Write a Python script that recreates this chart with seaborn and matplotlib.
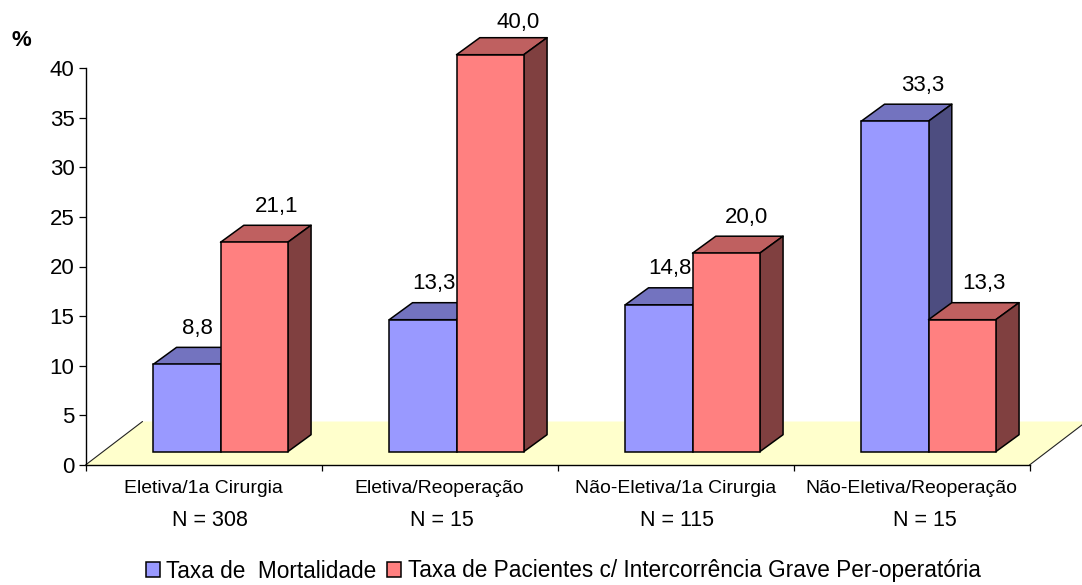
import matplotlib
matplotlib.use("Agg")
import matplotlib.pyplot as plt
from matplotlib.patches import Polygon
import pandas as pd
import seaborn as sns

categories = ["Eletiva/1a Cirurgia", "Eletiva/Reoperação", "Não-Eletiva/1a Cirurgia", "Não-Eletiva/Reoperação"]
n_labels = ["N = 308", "N = 15", "N = 115", "N = 15"]
series_names = ["Taxa de  Mortalidade", "Taxa de Pacientes c/ Intercorrência Grave Per-operatória"]
mortalidade = [8.8, 13.3, 14.8, 33.3]
intercorrencia = [21.1, 40.0, 20.0, 13.3]

# styling / layout (pixels of a 1082x585 figure)
W, H = 1082, 585
LEFT, RIGHT, TOP, BOTTOM = 85.5, 1029.5, 68, 465
FRONT = {"blue": "#9999FF", "red": "#FF8080"}
SHADE = {"blue": ("#7373BF", "#4D4D80"), "red": ("#BF6060", "#804040")}
LABEL_OFFSET_PX = [[11, 22.5], [11, 28], [11, 20], [28, 22]]
LABEL_RISE_PX = [[36, 36], [36, 32.5], [36, 36], [36, 36]]
N_OFFSET_PX = [6, 2, 1, 13]

sns.set_theme(style="white")
plt.rcParams["font.family"] = ["Liberation Sans", "DejaVu Sans"]

df = pd.DataFrame({
    "cat": categories * 2,
    "serie": [series_names[0]] * 4 + [series_names[1]] * 4,
    "valor": mortalidade + intercorrencia,
})

fig = plt.figure(figsize=(W / 100, H / 100), dpi=100, facecolor="white")
ax = fig.add_axes([LEFT / W, 1 - BOTTOM / H, (RIGHT - LEFT) / W, (BOTTOM - TOP) / H])
ax.set_facecolor("none")

sns.barplot(data=df, x="cat", y="valor", hue="serie", hue_order=series_names,
            palette=[FRONT["blue"], FRONT["red"]], width=0.57, dodge=True, gap=0,
            edgecolor="black", linewidth=1.1, saturation=1, ax=ax, zorder=3)

ax.set_xlim(-0.5, 3.5)
ax.set_ylim(0, 40)
px_x = (RIGHT - LEFT) / 4      # pixels per category
px_y = (BOTTOM - TOP) / 40     # pixels per percent
shift_x = 17 / px_x
shift_y = 13.3 / px_y
depth_x = 23.3 / px_x
depth_y = 17 / px_y

# floor of the 3D chart
floor_dx = 57 / px_x
floor_dy = 43.5 / px_y
ax.add_patch(Polygon([(-0.5, 0), (3.5, 0), (3.5 + floor_dx, floor_dy), (-0.5 + floor_dx, floor_dy)],
                     closed=True, facecolor="#FFFFCC", edgecolor="none", clip_on=False, zorder=1))
for x0 in (-0.5, 3.5):
    ax.plot([x0, x0 + floor_dx], [0, floor_dy], color="#222222", lw=0.8, clip_on=False, zorder=1.5)

for s, (container, key) in enumerate(zip(ax.containers, ("blue", "red"))):
    top_col, side_col = SHADE[key]
    for i, bar in enumerate(container):
        h = bar.get_height()
        bar.set_x(bar.get_x() + shift_x)
        bar.set_y(shift_y)
        bar.set_clip_on(False)
        bar.set_zorder(3 + 2 * s)
        x0, x1 = bar.get_x(), bar.get_x() + bar.get_width()
        y0, y1 = shift_y, shift_y + h
        top = Polygon([(x0, y1), (x1, y1), (x1 + depth_x, y1 + depth_y), (x0 + depth_x, y1 + depth_y)],
                      closed=True, facecolor=top_col, edgecolor="black", lw=1.1,
                      joinstyle="round", clip_on=False, zorder=2 + 2 * s)
        side = Polygon([(x1, y0), (x1 + depth_x, y0 + depth_y), (x1 + depth_x, y1 + depth_y), (x1, y1)],
                       closed=True, facecolor=side_col, edgecolor="black", lw=1.1,
                       joinstyle="round", clip_on=False, zorder=2 + 2 * s)
        ax.add_patch(top)
        ax.add_patch(side)
        ax.annotate(f"{h:.1f}".replace(".", ","),
                    xy=((x0 + x1) / 2, y1), xycoords="data",
                    xytext=(LABEL_OFFSET_PX[i][s] * 0.72, LABEL_RISE_PX[i][s] * 0.72),
                    textcoords="offset points",
                    ha="center", va="center", fontsize=16, color="black", zorder=10,
                    annotation_clip=False)

for side in ("top", "right"):
    ax.spines[side].set_visible(False)
for side in ("left", "bottom"):
    ax.spines[side].set_color("black")
    ax.spines[side].set_linewidth(1.0)
    ax.spines[side].set_zorder(2)

ax.set_xlabel("")
ax.set_ylabel("")
ax.set_yticks(range(0, 45, 5))
ax.tick_params(axis="y", which="major", left=True, length=5.4, width=0.9, pad=2.5,
               labelsize=16, color="black", labelcolor="black")
ax.set_xticks([-0.5, 0.5, 1.5, 2.5, 3.5])
ax.set_xticklabels([])
ax.tick_params(axis="x", which="major", bottom=True, length=4.5, width=0.9, color="black")
ax.set_xticks(range(4), minor=True)
ax.set_xticklabels(categories, minor=True, fontsize=13.95)
ax.tick_params(axis="x", which="minor", bottom=False, pad=6.7, labelcolor="black")

for i, lab in enumerate(n_labels):
    ax.annotate(lab, xy=(i, 0), xycoords="data",
                xytext=(N_OFFSET_PX[i] * 0.72, -(521 - BOTTOM) * 0.72),
                textcoords="offset points", ha="center", va="center", fontsize=15.5,
                color="black", annotation_clip=False)

fig.text(21 / W, 1 - 40 / H, "%", fontsize=16, fontweight="bold", ha="center", va="center", color="black")

handles, labels = ax.get_legend_handles_labels()
for h in handles:
    h.set_edgecolor("black")
    h.set_linewidth(1.1)
ax.legend(handles, labels, loc="center", bbox_to_anchor=(563 / W, 1 - 571 / H),
          bbox_transform=fig.transFigure, ncol=2, frameon=False, fontsize=16.3,
          handlelength=0.62, handleheight=0.62, handletextpad=0.3, columnspacing=0.45,
          borderpad=0, labelcolor="black")

fig.savefig("out.png", dpi=100, facecolor="white")
